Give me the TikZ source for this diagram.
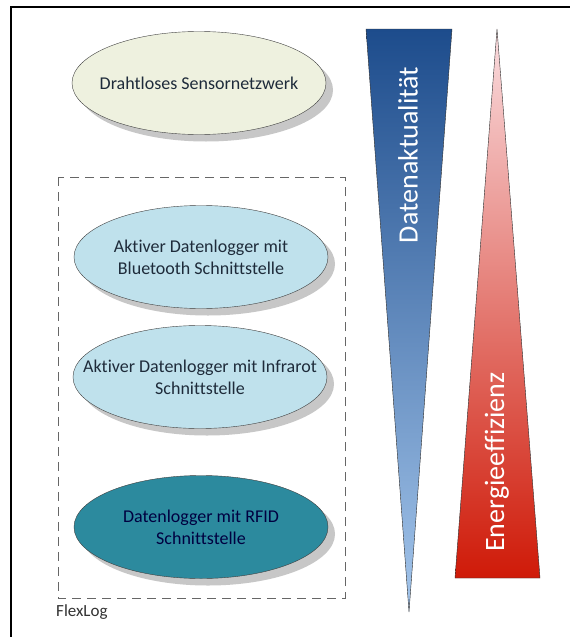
\documentclass[tikz,border=0pt]{standalone}
\usepackage{fontspec}
\setmainfont{Carlito}[Ligatures=CommonOff]
\usetikzlibrary{shapes.geometric,shadows}

\definecolor{creamfill}{HTML}{EEF1DF}
\definecolor{palebluefill}{HTML}{BFE1EC}
\definecolor{loggerteal}{HTML}{2C8A9E}
\definecolor{textnavy}{HTML}{1E2B3A}
\definecolor{bluetop}{HTML}{1D4C8C}
\definecolor{bluebottom}{HTML}{A4C6EC}
\definecolor{redtop}{HTML}{FADDE0}
\definecolor{redbottom}{HTML}{CF1A08}

\begin{document}
\begin{tikzpicture}[x=1pt,y=-1pt,
    logger/.style={ellipse,draw=black!75,thin,minimum width=254pt,minimum height=103pt,inner sep=0pt,
      drop shadow={shadow xshift=7pt,shadow yshift=-7pt,fill=black!22,opacity=1}},
    loggertext/.style={align=center,text=textnavy,font=\fontsize{18}{22}\selectfont},
    wedgeshadow/.style={fill=black!22},
    wedgetext/.style={rotate=90,text=white,font=\fontsize{28}{32}\selectfont}]
		\useasboundingbox (0,0) rectangle (570,637);
		\fill[white] (0,0) rectangle (570,637);
		\draw[line width=1.3pt] (11,645) -- (11,7) -- (575,7);
		% ellipses
		\node[logger,fill=creamfill,label={[loggertext]center:Drahtloses Sensornetzwerk}] (wsn) at (199,83) {};
		\node[logger,fill=palebluefill,label={[loggertext]center:Aktiver Datenlogger mit\\Bluetooth Schnittstelle}] (bluetooth) at (201,257) {};
		\node[logger,fill=palebluefill,label={[loggertext]center:Aktiver Datenlogger mit Infrarot\\Schnittstelle}] (infrarot) at (200,377) {};
		\node[logger,fill=loggerteal,label={[loggertext,text=black!75!blue]center:Datenlogger mit RFID\\Schnittstelle}] (rfid) at (201,527) {};
		% FlexLog
		\draw[black!60,dash pattern=on 9pt off 6pt] (58,177) rectangle (345,598);
		\node[anchor=base west,text=black!80,font=\fontsize{17}{20}\selectfont,inner sep=0pt] (flexlog) at (56,616) {FlexLog};
		% wedges
		\coordinate (b1) at (366,29);
		\coordinate (b2) at (452,29);
		\coordinate (b3) at (409,612);
		\coordinate (r1) at (497,29);
		\coordinate (r2) at (455,578);
		\coordinate (r3) at (540,578);
		\fill[wedgeshadow,shift={(10,13)}] (b1) -- (b2) -- (b3) -- cycle;
		\fill[wedgeshadow,shift={(12,12)}] (r1) -- (r3) -- (r2) -- cycle;
		\shade[top color=bluetop,bottom color=bluebottom] (b1) -- (b2) -- (b3) -- cycle;
		\draw[black!80] (b1) -- (b2) -- (b3) -- cycle;
		\shade[top color=redtop,bottom color=redbottom] (r1) -- (r3) -- (r2) -- cycle;
		\draw[black!80] (r1) -- (r3) -- (r2) -- cycle;
		\node[wedgetext] (aktual) at (408,155) {Datenaktualität};
		\node[wedgetext] (energie) at (497,462) {Energieeffizienz};
\end{tikzpicture}
\end{document}
